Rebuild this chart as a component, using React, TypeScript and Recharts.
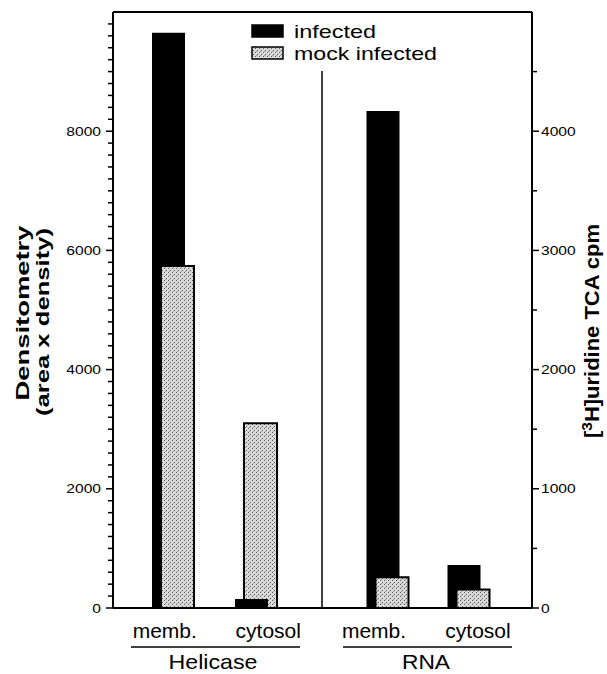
import React from 'react';
import { BarChart, Bar, XAxis, YAxis, ReferenceLine, Legend, Customized } from 'recharts';

// ---- data ----
const categories = ['Helicase memb.', 'Helicase cytosol', 'RNA memb.', 'RNA cytosol'];
const categoryLabels = ['memb.', 'cytosol', 'memb.', 'cytosol'];
const helicaseInfected = [9650, 150, null, null];
const helicaseMock = [5740, 3100, null, null];
const rnaInfected = [null, null, 4170, 360];
const rnaMock = [null, null, 257, 156];
const leftMajorTicks = [0, 2000, 4000, 6000, 8000];
const rightMajorTicks = [0, 1000, 2000, 3000, 4000];
const groupNames = ['Helicase', 'RNA'];

const leftTicks: number[] = [];
for (let v = 0; v < 10000; v += 200) leftTicks.push(v);
const rightTicks: number[] = [];
for (let v = 0; v < 5000; v += 500) rightTicks.push(v);

const data = categories.map((c, i) => ({
  cat: c,
  label: categoryLabels[i],
  hInf: helicaseInfected[i],
  hMock: helicaseMock[i],
  rInf: rnaInfected[i],
  rMock: rnaMock[i],
}));

const FONT = '"Liberation Sans", Arial, Helvetica, sans-serif';

const LeftTick = (props: any) => {
  const { x, y, payload } = props;
  const v = payload.value;
  const major = leftMajorTicks.includes(v);
  return (
    <g>
      <line x1={x - (major ? 7 : 5)} x2={x} y1={y} y2={y} stroke="#000" strokeWidth={1.5} />
      {major && (
        <text
          transform={`translate(${x - 12},${y + 4.5}) scale(1.25,1)`}
          textAnchor="end"
          fontSize={12.5}
          fontFamily={FONT}
          fill="#000"
        >
          {v}
        </text>
      )}
    </g>
  );
};

const RightTick = (props: any) => {
  const { x, y, payload } = props;
  const v = payload.value;
  const major = rightMajorTicks.includes(v);
  return (
    <g>
      <line x1={x} x2={x + (major ? 7 : 5)} y1={y} y2={y} stroke="#000" strokeWidth={1.5} />
      {major && (
        <text
          transform={`translate(${x + 9},${y + 4.5}) scale(1.25,1)`}
          textAnchor="start"
          fontSize={12.5}
          fontFamily={FONT}
          fill="#000"
        >
          {v}
        </text>
      )}
    </g>
  );
};

const makeCatTick = (prefix: string) => (props: any) => {
  const { x, payload, index } = props;
  const v = String(payload && payload.value != null ? payload.value : categories[index]);
  if (!v.startsWith(prefix)) return <g />;
  const row = data.find((d) => d.cat === v);
  return (
    <text x={x} y={638} textAnchor="middle" fontSize={21} fontFamily={FONT} fill="#000">
      {row ? row.label : ''}
    </text>
  );
};
const HelicaseTick = makeCatTick('Helicase');
const RnaTick = makeCatTick('RNA');

const LegendContent = (props: any) => {
  const items = (props.payload || []).filter(
    (p: any) => p.dataKey === 'hInf' || p.dataKey === 'hMock'
  );
  return (
    <svg width={200} height={42} style={{ display: 'block', overflow: 'visible' }}>
      {items.map((p: any, i: number) => (
        <g key={i}>
          <rect
            x={1}
            y={i * 22 + 1}
            width={31}
            height={12}
            fill={p.dataKey === 'hInf' ? '#000' : 'url(#stipple)'}
            stroke="#000"
            strokeWidth={1.5}
          />
          <text
            x={43}
            y={i * 22 + 14}
            fontSize={19}
            fontFamily={FONT}
            fill="#000"
            textLength={p.dataKey === 'hInf' ? 82 : 143}
            lengthAdjust="spacingAndGlyphs"
          >
            {p.value}
          </text>
        </g>
      ))}
    </svg>
  );
};

const Decor = () => (
  <g>
    {/* divider between the two panels */}
    <line x1={322} x2={322} y1={71} y2={608} stroke="#000" strokeWidth={1.5} />
    {/* group underlines */}
    <line x1={131} x2={300} y1={647} y2={647} stroke="#000" strokeWidth={1.5} />
    <line x1={343} x2={512} y1={647} y2={647} stroke="#000" strokeWidth={1.5} />
    <text x={213} y={669} textAnchor="middle" fontSize={21} fontFamily={FONT} fill="#000" textLength={89} lengthAdjust="spacingAndGlyphs">
      {groupNames[0]}
    </text>
    <text x={426} y={669} textAnchor="middle" fontSize={21} fontFamily={FONT} fill="#000" textLength={48} lengthAdjust="spacingAndGlyphs">
      {groupNames[1]}
    </text>
    {/* left title */}
    <text
      transform="translate(29,313) rotate(-90)"
      textAnchor="middle"
      fontSize={19}
      fontWeight="bold"
      fontFamily={FONT}
      fill="#000"
      textLength={175}
      lengthAdjust="spacingAndGlyphs"
    >
      Densitometry
    </text>
    <text
      transform="translate(49,322) rotate(-90)"
      textAnchor="middle"
      fontSize={19}
      fontWeight="bold"
      fontFamily={FONT}
      fill="#000"
      textLength={188}
      lengthAdjust="spacingAndGlyphs"
    >
      (area x density)
    </text>
    {/* right title */}
    <text
      transform="translate(599,331) rotate(-90)"
      textAnchor="middle"
      fontSize={20}
      fontWeight="bold"
      fontFamily={FONT}
      fill="#000"
      textLength={214}
      lengthAdjust="spacingAndGlyphs"
    >
      <tspan>[</tspan>
      <tspan fontSize={14} dy={-7}>3</tspan>
      <tspan dy={7}>H]uridine TCA cpm</tspan>
    </text>
  </g>
);

export default function App() {
  return (
    <div style={{ position: 'absolute', left: 0, top: 0, width: 607, height: 674, background: '#fff' }}>
      <svg width={0} height={0} style={{ position: 'absolute' }}>
        <defs>
          <pattern id="stipple" width={4} height={4} patternUnits="userSpaceOnUse">
            <rect width={4} height={4} fill="#dadada" />
            <rect x={0} y={0} width={1} height={1} fill="#5a5a5a" />
            <rect x={2} y={2} width={1} height={1} fill="#5a5a5a" />
            <rect x={1} y={3} width={1} height={1} fill="#9a9a9a" />
          </pattern>
        </defs>
      </svg>
      <BarChart
        width={607}
        height={674}
        data={data}
        margin={{ top: 12, right: 25, left: 53, bottom: 64 }}
        barGap={-24}
      >
        <XAxis
          xAxisId="hl"
          dataKey="cat"
          height={1}
          padding={{ left: 0, right: 5 }}
          tickLine={false}
          tickSize={0}
          tickMargin={0}
          interval={0}
          axisLine={{ stroke: '#000', strokeWidth: 2 }}
          tick={<HelicaseTick />}
        />
        <XAxis
          xAxisId="rl"
          dataKey="cat"
          height={1}
          padding={{ left: 1, right: 2 }}
          tickLine={false}
          tickSize={0}
          tickMargin={0}
          interval={0}
          axisLine={false}
          tick={<RnaTick />}
        />
        <XAxis xAxisId="h" dataKey="cat" hide height={0} padding={{ left: 18, right: 69 }} />
        <XAxis xAxisId="hf" dataKey="cat" hide height={0} padding={{ left: 18, right: 69 }} />
        <XAxis xAxisId="r" dataKey="cat" hide height={0} padding={{ left: 71.5, right: 23.5 }} />
        <YAxis
          yAxisId="left"
          orientation="left"
          width={60}
          domain={[0, 10000]}
          ticks={leftTicks}
          interval={0}
          tickLine={false}
          tickSize={0}
          tickMargin={0}
          axisLine={{ stroke: '#000', strokeWidth: 2 }}
          tick={<LeftTick />}
        />
        <YAxis
          yAxisId="right"
          orientation="right"
          width={50}
          domain={[0, 5000]}
          ticks={rightTicks}
          interval={0}
          tickLine={false}
          tickSize={0}
          tickMargin={0}
          axisLine={{ stroke: '#000', strokeWidth: 2 }}
          tick={<RightTick />}
        />
        <ReferenceLine xAxisId="hl" yAxisId="left" y={10000} stroke="#000" strokeWidth={2} />
        <Bar xAxisId="h" yAxisId="left" dataKey="hInf" name="infected" fill="#000" barSize={33} isAnimationActive={false} />
        <Bar xAxisId="h" yAxisId="left" dataKey="hMock" name="mock infected" fill="url(#stipple)" stroke="#000" strokeWidth={2} barSize={33} isAnimationActive={false} />
        <Bar xAxisId="r" yAxisId="right" dataKey="rInf" name="infected (RNA)" fill="#000" barSize={33} isAnimationActive={false} legendType="none" />
        <Bar xAxisId="r" yAxisId="right" dataKey="rMock" name="mock infected (RNA)" fill="url(#stipple)" stroke="#000" strokeWidth={2} barSize={33} isAnimationActive={false} legendType="none" />
        <Bar
          xAxisId="hf"
          yAxisId="left"
          dataKey={(d: any) => (d.hInf != null && d.hMock != null && d.hInf < d.hMock ? d.hInf : null)}
          name="front"
          fill="#000"
          barSize={33}
          isAnimationActive={false}
          legendType="none"
        />
        <Bar xAxisId="hf" yAxisId="left" dataKey="spacer" name="spacer" fill="none" barSize={33} isAnimationActive={false} legendType="none" />
        <Legend
          layout="vertical"
          align="center"
          verticalAlign="middle"
          content={<LegendContent />}
          wrapperStyle={{ left: 251, top: 24, width: 200, height: 42 }}
        />
        <Customized component={Decor} />
      </BarChart>
    </div>
  );
}
